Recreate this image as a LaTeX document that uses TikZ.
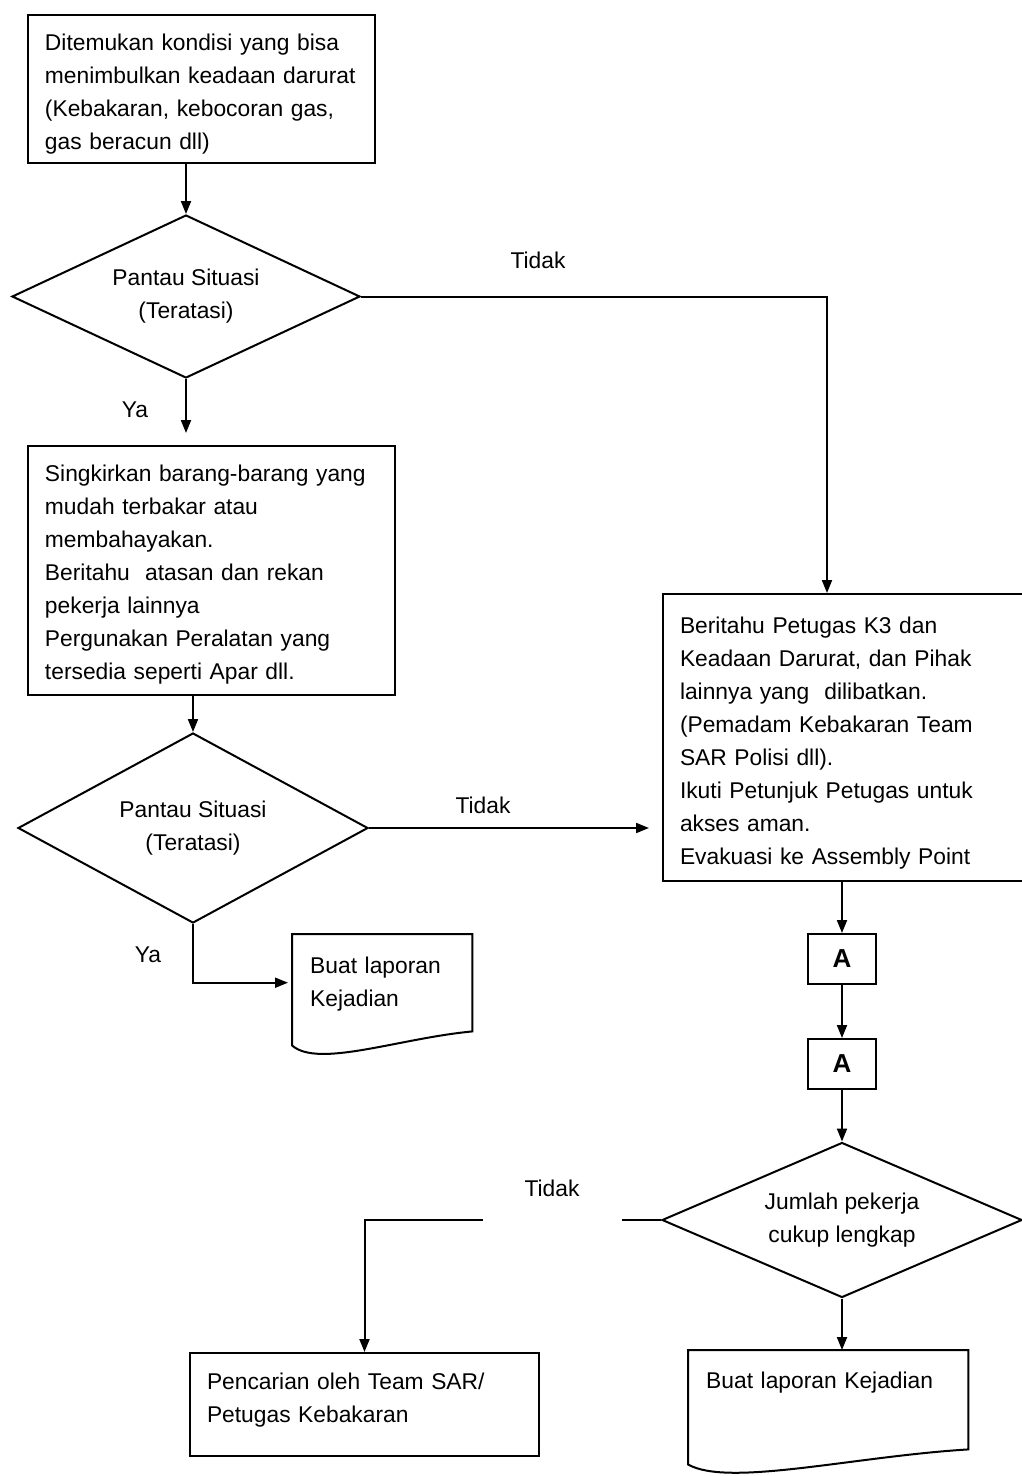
\documentclass[tikz,border=0pt]{standalone}
\usepackage{fontspec}
\setmainfont{Liberation Sans}
\usetikzlibrary{shapes.geometric,arrows.meta}
\newcommand{\chartfont}{\fontsize{22.8}{33}\selectfont}
\tikzstyle{every node}=[font=\chartfont]
\tikzstyle{line}=[line width=2pt]
\tikzstyle{block}=[draw,line,align=left,inner xsep=17pt,inner ysep=0pt,anchor=north west]
\tikzstyle{report}=[align=left,inner xsep=18pt,inner ysep=0pt,anchor=north west]
\tikzstyle{decision}=[draw,line,diamond,aspect=2.2,align=center,inner sep=0pt]
\tikzstyle{offpage}=[draw,line,minimum width=68pt,minimum height=50pt,inner sep=0pt,font=\fontsize{26}{30}\selectfont\bfseries]

\begin{document}
\begin{tikzpicture}[x=1pt,y=-1pt,>={Triangle[length=13pt,width=10pt]}]
\useasboundingbox (0,0) rectangle (1022,1476);

\node[block,text width=313pt,text height=35pt,text depth=113pt] (box_1) at (27,14)
  {Ditemukan kondisi yang bisa\\ menimbulkan keadaan darurat\\ (Kebakaran, kebocoran gas,\\ gas beracun dll)};
\node[decision,minimum width=348pt,minimum height=163pt] (dec_1) at (186,296.5) {Pantau Situasi\\ (Teratasi)};
\node[block,text width=333pt,text height=35pt,text depth=214pt] (box_2) at (27,445)
  {Singkirkan barang-barang yang\\ mudah terbakar atau\\ membahayakan.\\ Beritahu\ \ atasan dan rekan\\ pekerja lainnya\\ Pergunakan Peralatan yang\\ tersedia seperti Apar dll.};
\node[decision,minimum width=350pt,minimum height=190pt] (dec_2) at (193,828) {Pantau Situasi\\ (Teratasi)};
\node[report,text width=144pt,text height=39pt,text depth=58pt] (doc_1) at (292,934) {Buat laporan\\ Kejadian};
\node[block,text width=328pt,text height=39pt,text depth=248pt] (box_3) at (662,593)
  {Beritahu Petugas K3 dan\\ Keadaan Darurat, dan Pihak\\ lainnya yang\ \ dilibatkan.\\ (Pemadam Kebakaran Team\\ SAR Polisi dll).\\ Ikuti Petunjuk Petugas untuk\\ akses aman.\\ Evakuasi ke Assembly Point};
\node[offpage] (a_1) at (842,959) {A};
\node[offpage] (a_2) at (842,1064) {A};
\node[decision,minimum width=360pt,minimum height=155pt] (dec_3) at (842,1220) {Jumlah pekerja\\ cukup lengkap};
\node[block,text width=315pt,text height=36pt,text depth=67pt] (box_4) at (189,1352)
  {Pencarian oleh Team SAR/\\ Petugas Kebakaran};
\node[report,text width=244pt,text height=38pt,text depth=61pt] (doc_2) at (688,1350) {Buat laporan Kejadian};

% labels
\node (no_1) at (538,260) {Tidak};
\node (yes_1) at (135,410) {Ya};
\node (no_2) at (483,805) {Tidak};
\node (yes_2) at (148,955) {Ya};
\node (no_3) at (552,1188) {Tidak};
\coordinate (gap_r) at (622,1220);
\coordinate (gap_l) at (483,1220);

% document outlines
\draw[line] (doc_1.north west) -- (doc_1.north east) -- (doc_1.south east)
  .. controls +(-74,7) and +(26,23) .. ([yshift=-14pt]doc_1.south west) -- cycle;
\draw[line] (doc_2.north west) -- (doc_2.north east) -- (doc_2.south east)
  .. controls +(-115,7) and +(40,23) .. ([yshift=-15pt]doc_2.south west) -- cycle;

% connectors
\path[->,line] (dec_1.north |- box_1.south) edge (dec_1.north)
  (dec_2.north |- box_2.south) edge (dec_2.north)
  (a_1.north |- box_3.south) edge (a_1.north)
  (a_1.south) edge (a_2.north)
  (a_2.south) edge (dec_3.north)
  (dec_3.south) edge (dec_3.south |- doc_2.north);
\draw[->,line,shorten >=12pt] (dec_1.south) -- (dec_1.south |- box_2.north);
\draw[->,line] (dec_1.east) -| ([xshift=-17pt]box_3.north);
\draw[->,line,shorten >=13pt] (dec_2.east) -- (dec_2.east -| box_3.west);
\draw[->,line,shorten >=4pt] (dec_2.south) |- (doc_1.west);
\draw[line] (dec_3.west) -- (gap_r);
\draw[->,line] (gap_l) -| (box_4.north);
\end{tikzpicture}
\end{document}
